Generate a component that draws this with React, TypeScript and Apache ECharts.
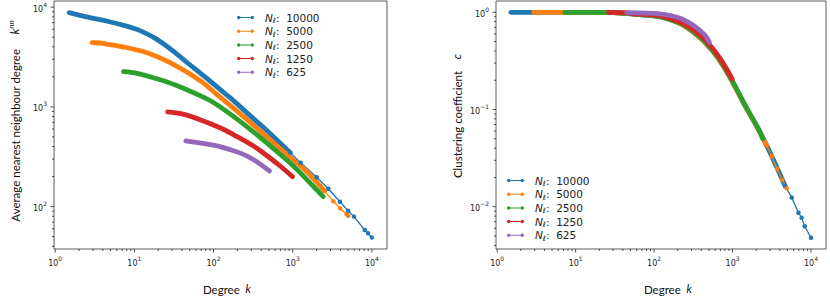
import React, { useEffect, useRef } from 'react';
import * as echarts from 'echarts';

// ---------- data ----------
const seriesNames = ['10000', '5000', '2500', '1250', '625'];
const colors = ['#1f77b4', '#ff7f0e', '#2ca02c', '#d62728', '#9467bd'];

// Left panel: average nearest neighbour degree k^nn vs degree k
const knnK10000 = [1.5, 2.6, 4.7, 8.4, 11.2, 18.2, 29.5, 47.6, 77.3, 138, 180, 316, 474, 931];
const knnV10000 = [8830, 7940, 7180, 6380, 5920, 4890, 3730, 2740, 2010, 1370, 1150, 767, 578, 348];
const knnTailK10000 = [931, 1260, 2010, 2820, 3950, 5010, 5930, 8130, 8950, 10000];
const knnTailV10000 = [348, 275, 197, 151, 112, 91, 79.4, 58.3, 54.1, 48.9];

const knnK5000 = [2.92, 3.3, 3.98, 6.9, 15, 32.4, 68.9, 112, 180, 316, 474, 931, 1410, 2010, 2510];
const knnV5000 = [4420, 4400, 4330, 4030, 3460, 2630, 1820, 1320, 966, 661, 497, 313, 236, 176, 144];
const knnTailK5000 = [2510, 3260, 3980, 4790, 5010];
const knnTailV5000 = [144, 113, 96, 84, 81];

const knnK2500 = [7.28, 8.5, 10.2, 18.2, 32.4, 68.9, 103, 180, 316, 474, 1020, 1600, 2430];
const knnV2500 = [2260, 2240, 2190, 1940, 1670, 1288, 1090, 800, 565, 433, 256, 178, 126];

const knnK1250 = [26.3, 40, 68.9, 125, 180, 316, 474, 700, 993];
const knnV1250 = [891, 851, 741, 611, 525, 407, 324, 254, 200];

const knnK625 = [44.7, 68.9, 123, 219, 321, 507];
const knnV625 = [456, 433, 398, 344, 295, 228];

// Right panel: clustering coefficient c vs degree k
const cK10000 = [1.5, 3, 10, 30, 65.8, 117, 210, 309, 457, 676, 991, 1460, 2150, 3160, 4680];
const cV10000 = [1.0, 1.0, 1.0, 0.993, 0.946, 0.905, 0.778, 0.638, 0.484, 0.327, 0.195, 0.108, 0.0622, 0.0331, 0.0163];
const cTailK10000 = [4680, 5680, 6920, 7590, 8320, 10000];
const cTailV10000 = [0.0163, 0.0124, 0.00867, 0.0077, 0.0063, 0.0048];

const cK5000 = [2.92, 10, 30, 65.8, 117, 210, 309, 457, 676, 991, 1460, 2150, 2700];
const cV5000 = [1.0, 1.0, 0.995, 0.948, 0.905, 0.772, 0.632, 0.478, 0.323, 0.193, 0.107, 0.0615, 0.043];
const cTailK5000 = [2700, 3160, 3700, 4300, 4900];
const cTailV5000 = [0.043, 0.033, 0.0245, 0.0189, 0.0155];

const cK2500 = [7.28, 15, 30, 65.8, 117, 210, 309, 457, 676, 991, 1460, 2150, 2430];
const cV2500 = [1.0, 1.0, 0.99, 0.945, 0.9, 0.775, 0.64, 0.485, 0.33, 0.197, 0.109, 0.0625, 0.05];

const cK1250 = [26.3, 40, 65.8, 117, 210, 309, 457, 676, 993];
const cV1250 = [1.0, 0.99, 0.955, 0.925, 0.8, 0.668, 0.51, 0.345, 0.205];

const cK625 = [44.7, 65.8, 117, 210, 309, 400, 457, 507];
const cV625 = [0.99, 0.985, 0.965, 0.875, 0.745, 0.63, 0.565, 0.49];

// axis ranges (log10 units)
const xRange = [-0.015, 4.191];
const yRangeLeft = [1.575, 4.062];
const yRangeRight = [-2.435, 0.116];

// ---------- helpers ----------
const toLog = (ks: number[], vs: number[]) => ks.map((k, i) => [Math.log10(k), Math.log10(vs[i])]);

const TICK_FONT = 'DejaVu Sans';
const TITLE_FONT = 'Lato';

const tickLabelFormatter = (v: number) => {
  const r = Math.round(v);
  if (Math.abs(v - r) > 1e-6) return '';
  const e = r < 0 ? '\u2212' + Math.abs(r) : String(r);
  return `{b|10}{s|${e}}`;
};
const tickRich = {
  b: { fontFamily: TICK_FONT, fontSize: 8, color: '#222', verticalAlign: 'bottom', lineHeight: 12 },
  s: { fontFamily: TICK_FONT, fontSize: 6, color: '#222', verticalAlign: 'top' },
};

function tickValues(range: number[]) {
  const out: number[][] = [];
  for (let n = Math.floor(range[0]) - 1; n <= Math.ceil(range[1]); n++) {
    for (let m = 1; m <= 9; m++) {
      const v = n + Math.log10(m);
      if (v >= range[0] - 1e-9 && v <= range[1] + 1e-9) out.push([v, m === 1 ? 1 : 0]);
    }
  }
  return out;
}

function tickSeries(gridIdx: number, yRange: number[]) {
  const data: number[][] = [];
  tickValues(xRange).forEach(([v, major]) => data.push([v, major, 0]));
  tickValues(yRange).forEach(([v, major]) => data.push([v, major, 1]));
  return {
    type: 'custom',
    xAxisIndex: gridIdx,
    yAxisIndex: gridIdx,
    silent: true,
    clip: false,
    z: 10,
    encode: { x: -1, y: -1 },
    data,
    renderItem: (params: any, api: any) => {
      const v = api.value(0);
      const major = api.value(1) === 1;
      const axis = api.value(2);
      const len = major ? 3.5 : 2;
      if (axis === 0) {
        const p = api.coord([v, yRange[0]]);
        return {
          type: 'line',
          shape: { x1: p[0], y1: p[1], x2: p[0], y2: p[1] + len },
          style: { stroke: '#222', lineWidth: 0.8 },
        };
      }
      const p = api.coord([xRange[0], v]);
      return {
        type: 'line',
        shape: { x1: p[0] - len, y1: p[1], x2: p[0], y2: p[1] },
        style: { stroke: '#222', lineWidth: 0.8 },
      };
    },
  };
}

function denseSeries(name: string, color: string, data: number[][], gi: number) {
  return {
    type: 'line',
    name,
    xAxisIndex: gi,
    yAxisIndex: gi,
    data,
    symbol: 'none',
    showSymbol: false,
    smooth: 0.35,
    silent: true,
    itemStyle: { color },
    lineStyle: { color, width: 4.8, cap: 'round', join: 'round' },
  };
}
function tailSeries(name: string, color: string, data: number[][], gi: number) {
  return {
    type: 'line',
    name,
    xAxisIndex: gi,
    yAxisIndex: gi,
    data,
    symbol: 'circle',
    symbolSize: 4.5,
    showSymbol: true,
    showAllSymbol: true,
    silent: true,
    itemStyle: { color },
    lineStyle: { color, width: 1.3 },
  };
}

const LEGEND_ICON =
  'path://M0,3H34V5H0Z M0,4a3.5,3.5 0 1,1 7,0a3.5,3.5 0 1,1 -7,0Z M27,4a3.5,3.5 0 1,1 7,0a3.5,3.5 0 1,1 -7,0Z';

function legend(left: number, top: number) {
  return {
    data: seriesNames,
    orient: 'vertical',
    left,
    top,
    itemWidth: 17,
    itemHeight: 3.5,
    itemGap: 1.2,
    icon: LEGEND_ICON,
    selectedMode: false,
    formatter: (name: string) => `{n|N}{l|\u2113}{t|:  ${name}}`,
    textStyle: {
      rich: {
        n: { fontFamily: TICK_FONT, fontStyle: 'italic', fontSize: 10.5, color: '#222', lineHeight: 14, padding: [0, 0, 0, 6] },
        l: { fontFamily: TICK_FONT, fontStyle: 'italic', fontSize: 7.5, color: '#222', verticalAlign: 'bottom' },
        t: { fontFamily: TICK_FONT, fontSize: 10.5, color: '#222', lineHeight: 14 },
      },
    },
  };
}

function xAxis(gi: number) {
  return {
    type: 'value',
    gridIndex: gi,
    min: xRange[0],
    max: xRange[1],
    minInterval: 1,
    maxInterval: 1,
    splitLine: { show: false },
    axisLine: { show: false },
    axisTick: { show: false },
    axisLabel: { formatter: tickLabelFormatter, rich: tickRich, margin: 6, showMinLabel: false, showMaxLabel: false },
  };
}
function yAxis(gi: number, range: number[]) {
  return {
    type: 'value',
    gridIndex: gi,
    min: range[0],
    max: range[1],
    minInterval: 1,
    maxInterval: 1,
    splitLine: { show: false },
    axisLine: { show: false },
    axisTick: { show: false },
    axisLabel: { formatter: tickLabelFormatter, rich: tickRich, margin: 7, showMinLabel: false, showMaxLabel: false },
  };
}

const titleRich = {
  i: { fontFamily: TITLE_FONT, fontStyle: 'italic', fontSize: 11.5, fill: '#111' },
  s: { fontFamily: TITLE_FONT, fontStyle: 'italic', fontSize: 8, fill: '#111', verticalAlign: 'top' },
  r: { fontFamily: TITLE_FONT, fontSize: 11.5, fill: '#111', verticalAlign: 'bottom', lineHeight: 14 },
};

function titleText(text: string, x: number, y: number, rotate: boolean) {
  return {
    type: 'text',
    x,
    y,
    rotation: rotate ? Math.PI / 2 : 0,
    silent: true,
    style: {
      text,
      rich: titleRich,
      font: `11.5px ${TITLE_FONT}`,
      fill: '#111',
      align: 'center',
      verticalAlign: 'middle',
    },
  };
}

export default function App() {
  const ref = useRef<HTMLDivElement>(null);
  useEffect(() => {
    if (!ref.current) return;
    const chart = echarts.init(ref.current, undefined, { renderer: 'svg' });

    const leftData = [
      [toLog(knnK10000, knnV10000), toLog(knnTailK10000, knnTailV10000)],
      [toLog(knnK5000, knnV5000), toLog(knnTailK5000, knnTailV5000)],
      [toLog(knnK2500, knnV2500), null],
      [toLog(knnK1250, knnV1250), null],
      [toLog(knnK625, knnV625), null],
    ];
    const rightData = [
      [toLog(cK10000, cV10000), toLog(cTailK10000, cTailV10000)],
      [toLog(cK5000, cV5000), toLog(cTailK5000, cTailV5000)],
      [toLog(cK2500, cV2500), null],
      [toLog(cK1250, cV1250), null],
      [toLog(cK625, cV625), null],
    ];

    const series: any[] = [];
    [leftData, rightData].forEach((set, gi) => {
      set.forEach(([dense, tail], i) => {
        series.push(denseSeries(seriesNames[i], colors[i], dense as number[][], gi));
        if (tail) series.push(tailSeries(seriesNames[i], colors[i], tail as number[][], gi));
      });
    });
    series.push(tickSeries(0, yRangeLeft));
    series.push(tickSeries(1, yRangeRight));

    chart.setOption({
      animation: false,
      grid: [
        { left: 54, top: 1, width: 333, height: 248, show: true, borderColor: '#333', borderWidth: 0.8, backgroundColor: 'transparent' },
        { left: 496, top: 1, width: 330, height: 248, show: true, borderColor: '#333', borderWidth: 0.8, backgroundColor: 'transparent' },
      ],
      xAxis: [xAxis(0), xAxis(1)],
      yAxis: [yAxis(0, yRangeLeft), yAxis(1, yRangeRight)],
      legend: [legend(232, 7), legend(502, 170)],
      series,
      graphic: [
        titleText('{r|Degree  }{i|k}', 227, 288, false),
        titleText('{r|Degree  }{i|k}', 668, 288, false),
        titleText('{r|Average nearest neighbour degree     }{i|k}{s|nn}', 14, 121, true),
        titleText('{r|Clustering coefficient    }{i|c}', 456, 116, true),
      ],
    });
    return () => chart.dispose();
  }, []);
  return <div ref={ref} style={{ position: 'absolute', left: 0, top: 0, width: 830, height: 305 }} />;
}
